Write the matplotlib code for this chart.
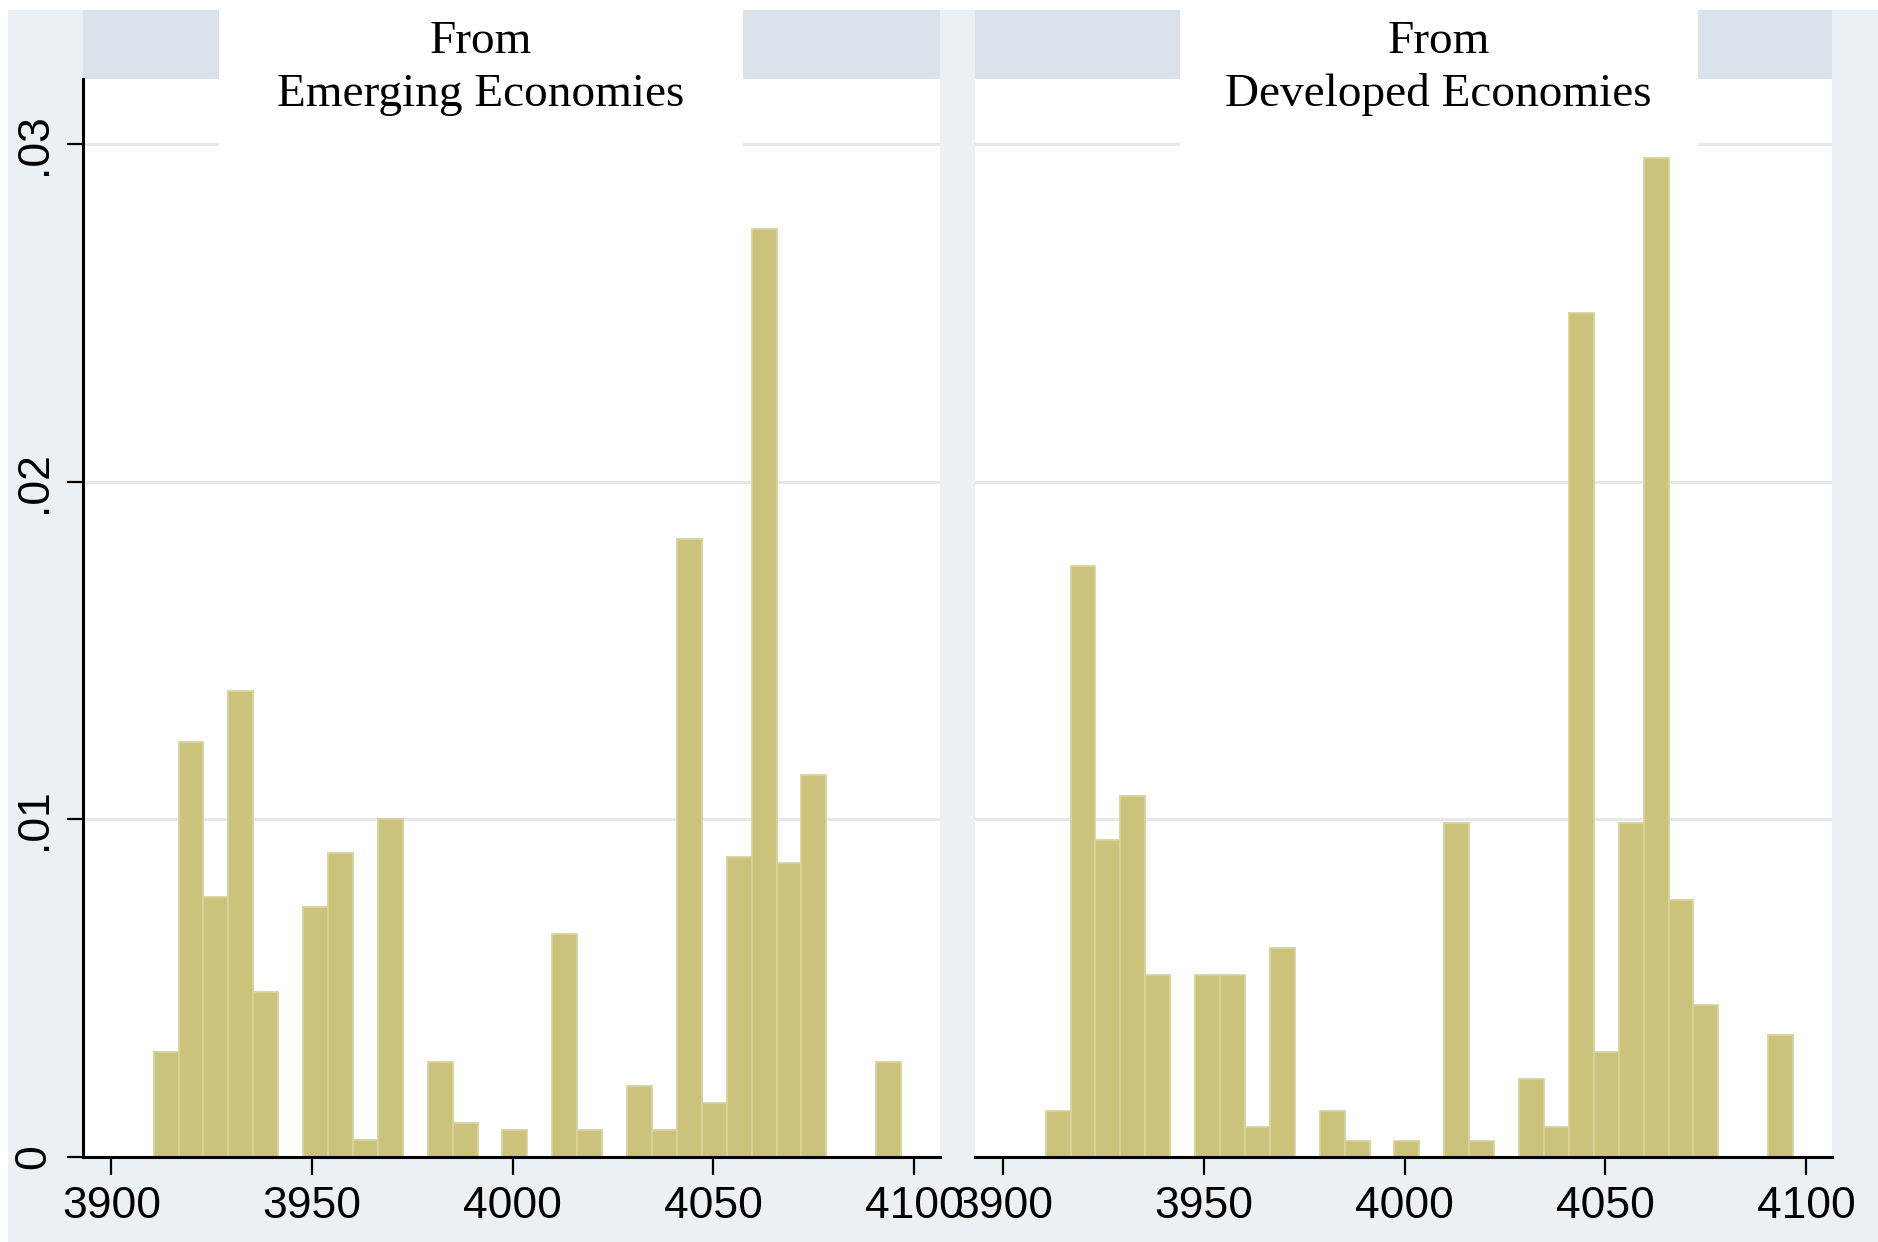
import matplotlib.pyplot as plt
from matplotlib.patches import Rectangle

W, H = 1878, 1242

# histogram bins (shared by both panels)
BIN_START = 3910.5
BIN_WIDTH = 6.21

# density per bin, 30 bins
emerging_density = [
    0.0031, 0.0123, 0.0077, 0.0138, 0.0049, 0.0, 0.0074, 0.0090, 0.0005, 0.0100,
    0.0, 0.0028, 0.0010, 0.0, 0.0008, 0.0, 0.0066, 0.0008, 0.0, 0.0021,
    0.0008, 0.0183, 0.0016, 0.0089, 0.0275, 0.0087, 0.0113, 0.0, 0.0, 0.0028,
]
developed_density = [
    0.00135, 0.0175, 0.0094, 0.0107, 0.0054, 0.0, 0.0054, 0.0054, 0.0009, 0.0062,
    0.0, 0.00135, 0.00046, 0.0, 0.00046, 0.0, 0.0099, 0.00046, 0.0, 0.0023,
    0.0009, 0.0250, 0.0031, 0.0099, 0.0296, 0.0076, 0.0045, 0.0, 0.0, 0.0036,
]

panel_heads = ["From", "From"]
panel_names = ["Emerging Economies", "Developed Economies"]
x_ticks = [3900, 3950, 4000, 4050, 4100]
y_ticks = [0, 0.01, 0.02, 0.03]
y_tick_labels = ["0", ".01", ".02", ".03"]

OUTER_BG = "#EAF0F3"
BAND = "#DAE3E9"
BAR_FILL = "#CBC37C"
BAR_EDGE = "#D8D29C"
GRID = "#E8E8E8"

fig = plt.figure(figsize=(W / 100, H / 100), dpi=100, facecolor="white")
fig.patches.append(Rectangle((8 / W, 0), 1, (H - 10) / H, transform=fig.transFigure,
                             facecolor=OUTER_BG, edgecolor="none", zorder=-10))

# pixel layout of the two plot regions
ax_bottom = (H - 1157) / H
ax_height = 1078 / H
ax_width = 857 / W
lefts = [83 / W, 975 / W]
title_cx = [0.464, 0.541]
boxes = [(0.159, 0.770), (0.239, 0.844)]
band_h = 69 / 1078

for i, (dens, head, name) in enumerate(zip([emerging_density, developed_density],
                                           panel_heads, panel_names)):
    ax = fig.add_axes([lefts[i], ax_bottom, ax_width, ax_height])
    ax.set_facecolor("white")
    edges = [BIN_START + k * BIN_WIDTH for k in range(len(dens))]
    ax.bar(edges, dens, width=BIN_WIDTH, align="edge", color=BAR_FILL,
           edgecolor=BAR_EDGE, linewidth=1.3, zorder=2)
    ax.set_xlim(3892.9, 4106.5)
    ax.set_ylim(0, 0.03193)

    ax.set_axisbelow(True)
    ax.yaxis.grid(True, color=GRID, linewidth=2.2)
    ax.set_yticks(y_ticks)
    ax.set_xticks(x_ticks)
    ax.set_xticklabels([str(t) for t in x_ticks])
    ax.tick_params(axis="x", direction="out", length=13, width=1.6, pad=8,
                   labelsize=32, colors="black")

    for s in ["top", "right"]:
        ax.spines[s].set_visible(False)
    ax.spines["bottom"].set_linewidth(2.2)
    if i == 0:
        ax.spines["left"].set_linewidth(2.2)
        ax.set_yticklabels(y_tick_labels, rotation=90, va="center")
        ax.tick_params(axis="y", direction="out", length=11.5, width=1.6, pad=9,
                       labelsize=32)
    else:
        ax.spines["left"].set_visible(False)
        ax.tick_params(axis="y", left=False, labelleft=False)

    for lab in ax.get_xticklabels() + ax.get_yticklabels():
        lab.set_family("Liberation Sans")

    # subtitle strip with a white box behind the text
    ax.add_patch(Rectangle((0, 1), 1, band_h, transform=ax.transAxes, clip_on=False,
                           facecolor=BAND, edgecolor="none", zorder=0.6))
    bx0, bx1 = boxes[i]
    ax.add_patch(Rectangle((bx0, 0.9276), bx1 - bx0, 1 + band_h - 0.9276,
                           transform=ax.transAxes, clip_on=False,
                           facecolor="white", edgecolor="none", zorder=1.5))
    ax.text(title_cx[i], 1 + 26 / 1078, head, transform=ax.transAxes, ha="center",
            va="baseline", fontsize=34, family="Liberation Serif", zorder=3)
    ax.text(title_cx[i], 1 - 27 / 1078, name, transform=ax.transAxes, ha="center",
            va="baseline", fontsize=34, family="Liberation Serif", zorder=3)

fig.savefig("out.png", dpi=100, facecolor=fig.get_facecolor())
